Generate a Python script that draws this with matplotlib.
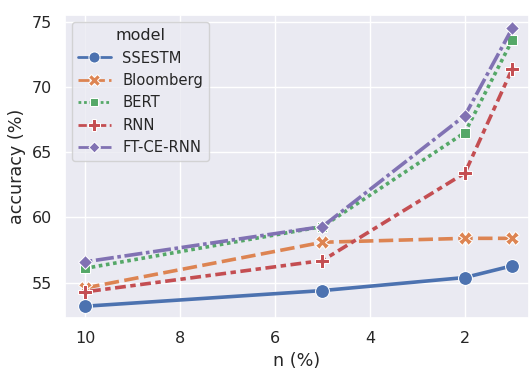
import matplotlib
matplotlib.use("Agg")
import matplotlib.pyplot as plt
import pandas as pd
import seaborn as sns

n_pct = [10, 5, 2, 1]
models = ["SSESTM", "Bloomberg", "BERT", "RNN", "FT-CE-RNN"]
ssestm = [53.2, 54.4, 55.4, 56.3]
bloomberg = [54.6, 58.1, 58.4, 58.4]
bert = [56.1, 59.3, 66.5, 73.6]
rnn = [54.3, 56.7, 63.4, 71.4]
ftcernn = [56.6, 59.3, 67.8, 74.5]

rows = []
for name, vals in zip(models, [ssestm, bloomberg, bert, rnn, ftcernn]):
    for n, v in zip(n_pct, vals):
        rows.append({"n (%)": n, "accuracy (%)": v, "model": name})
df = pd.DataFrame(rows)

sns.set_theme(style="darkgrid", font_scale=1.05)

fig, ax = plt.subplots(figsize=(5.29, 3.70), dpi=100)
fig.subplots_adjust(left=65 / 529, right=1.0, top=1 - 15 / 370, bottom=1 - 318 / 370)

sns.lineplot(data=df, x="n (%)", y="accuracy (%)", hue="model", style="model",
             markers=True, linewidth=2.6, markersize=10, ax=ax)

ax.set_xlim(10.42, 0.65)
ax.set_ylim(52.3, 75.5)
ax.set_xticks([10, 8, 6, 4, 2])
ax.set_yticks([55, 60, 65, 70, 75])
leg = ax.legend(title="model", loc="upper left", fontsize=10.6, title_fontsize=11.5,
                handlelength=2.2)
for h in leg.legend_handles:
    h.set_linewidth(2.0)
    h.set_markersize(8)

fig.savefig("out.png", dpi=100)
